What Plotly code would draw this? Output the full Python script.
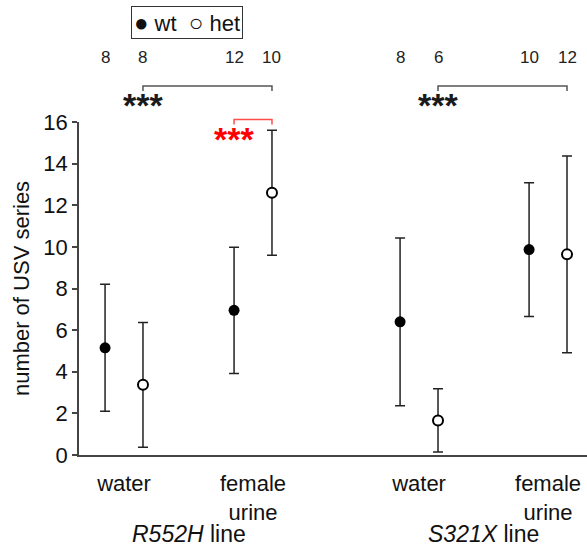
import plotly.graph_objects as go

# ---- data ----
conditions = ["R552H water", "R552H female urine", "S321X water", "S321X female urine"]
tick_text = ["water", "female<br>urine", "water", "female<br>urine"]
line_labels = ["<i>R552H</i> line", "<i>S321X</i> line"]
wt_mean = [5.15, 6.95, 6.4, 9.87]
wt_err = [3.05, 3.03, 4.03, 3.21]
het_mean = [3.37, 12.6, 1.66, 9.64]
het_err = [3.0, 3.0, 1.52, 4.73]
n_wt = [8, 12, 8, 10]
n_het = [8, 10, 6, 12]
# comparisons: (cond_a, genotype_a, cond_b, genotype_b, label, color, level)
comparisons = [
    (0, "het", 1, "het", "***", "#1a1a1a", "high"),
    (1, "wt", 1, "het", "***", "red", "low"),
    (2, "het", 3, "het", "***", "#1a1a1a", "high"),
]

# ---- layout helpers ----
group_pos = [0, 1, 2.287, 3.287]
off = 0.147
x_wt = [g - off for g in group_pos]
x_het = [g + off for g in group_pos]

W, H = 587, 555
PW, PH = 508, 333
ML, MT = 79, 122
MR = W - ML - PW
MB = H - MT - PH


def py(px):
    return (H - MB - px) / PH


def px_(x):
    return (x - ML) / PW


FONT = "Liberation Sans, Arial, sans-serif"

fig = go.Figure()
err_style = dict(type="data", visible=True, width=5, thickness=1.5, color="#222")
fig.add_trace(go.Scatter(
    x=x_wt, y=wt_mean, mode="markers", name="wt",
    marker=dict(symbol="circle", size=11, color="black", line=dict(width=0)),
    error_y=dict(array=wt_err, **err_style), cliponaxis=False,
))
fig.add_trace(go.Scatter(
    x=x_het, y=het_mean, mode="markers", name="het",
    marker=dict(symbol="circle", size=10, color="white", line=dict(width=2, color="black")),
    error_y=dict(array=het_err, **err_style), cliponaxis=False,
))

annotations = []
shapes = []
# n counts
for xs, ns in ((x_wt, n_wt), (x_het, n_het)):
    for x, n in zip(xs, ns):
        annotations.append(dict(x=x, y=py(58), xref="x", yref="paper", text=str(n),
                                showarrow=False, font=dict(size=17, color="#222", family=FONT),
                                xanchor="center", yanchor="middle"))

# significance brackets
for a, ga, b, gb, lab, col, lvl in comparisons:
    xa = x_wt[a] if ga == "wt" else x_het[a]
    xb = x_wt[b] if gb == "wt" else x_het[b]
    if lvl == "high":
        ytop, ybot, ystar = 86, 91, 105
        lcol = "#555"
    else:
        ytop, ybot, ystar = 119.5, 124.5, 138.5
        lcol = "#ff4d4d"
    shapes.append(dict(type="path", xref="x", yref="paper",
                       path=f"M {xa},{py(ybot)} L {xa},{py(ytop)} L {xb},{py(ytop)} L {xb},{py(ybot)}",
                       line=dict(color=lcol, width=1.5)))
    annotations.append(dict(x=xa, y=py(ystar), xref="x", yref="paper", text=f"<b>{lab}</b>",
                            showarrow=False, font=dict(size=34, color=col, family=FONT),
                            xanchor="center", yanchor="middle"))

# line labels
for i, lab in enumerate(line_labels):
    xc = (group_pos[2 * i] + group_pos[2 * i + 1]) / 2
    annotations.append(dict(x=xc, y=py(534), xref="x", yref="paper", text=lab,
                            showarrow=False, font=dict(size=23, color="#111", family=FONT),
                            xanchor="center", yanchor="middle"))

# legend box
annotations.append(dict(x=px_(186.5), y=py(22.5), xref="paper", yref="paper",
                        text="<span style='font-size:24px'>●</span>&nbsp;wt&nbsp;&nbsp;"
                             "<span style='font-size:24px'>○</span>&nbsp;het",
                        showarrow=False, font=dict(size=22, color="#111", family=FONT),
                        bordercolor="#333", borderwidth=1, borderpad=2,
                        xanchor="center", yanchor="middle"))

fig.update_layout(
    width=W, height=H,
    margin=dict(l=ML, r=MR, t=MT, b=MB),
    plot_bgcolor="white", paper_bgcolor="white",
    showlegend=False,
    font=dict(family=FONT, size=22, color="#111"),
    annotations=annotations, shapes=shapes,
    xaxis=dict(range=[-0.349, 3.589], tickvals=group_pos, ticktext=tick_text,
               showgrid=False, zeroline=False, showline=True, linecolor="#444", linewidth=1.5,
               ticks="", ticklabelstandoff=8, tickfont=dict(size=22), automargin=False),
    yaxis=dict(range=[0, 16], tickvals=[0, 2, 4, 6, 8, 10, 12, 14, 16],
               showgrid=False, zeroline=False, showline=True, linecolor="#444", linewidth=1.5,
               ticks="outside", ticklen=5, tickwidth=1.5, tickcolor="#444",
               tickfont=dict(size=22), automargin=False,
               title=dict(text="number of USV series", font=dict(size=22), standoff=8)),
)

fig.write_html("out.html",
               config={"displayModeBar": False},
               post_script="document.body.style.margin='0';document.body.style.overflow='hidden';")
